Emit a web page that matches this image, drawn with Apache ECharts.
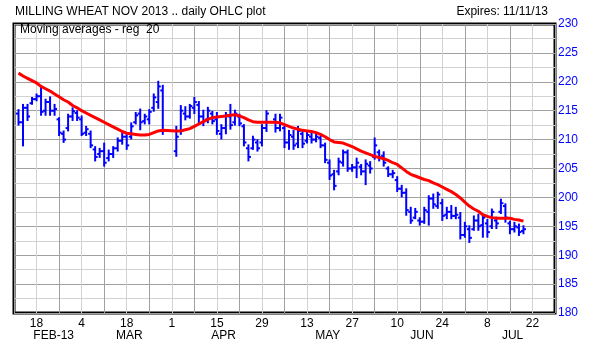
<!DOCTYPE html>
<html><head><meta charset="utf-8">
<script src="https://cdn.jsdelivr.net/npm/echarts@6/dist/echarts.min.js"></script>
<style>html,body{margin:0;padding:0;background:#fff}#c{width:612px;height:360px}</style>
</head><body><div id="c"></div>
<script>
// trading-day index: 0 = Mon 11 Feb 2013, weekdays only
const days = [1,2,3,4,5,6,7,8,9,10,11,12,13,14,15,16,17,18,19,20,21,22,23,24,25,26,27,28,29,30,31,32,33,
  36,37,38,39,40,41,42,43,44,45,46,47,48,49,50,51,52,53,54,55,56,
  58,59,60,61,62,63,64,65,66,67,68,69,70,71,72,73,74,75,76,77,78,79,80,81,82,83,84,85,86,87,
  88,89,90,91,92,93,94,95,96,97,98,99,100,101,102,103,104,105,106,107,108,109,110,111,112,113];
const opens = [214.5,213.0,215.5,216.3,217.0,217.5,215.0,216.5,215.0,213.5,211.0,212.0,214.0,214.6,213.5,211.2,211.0,208.3,207.5,208.0,206.8,207.5,208.5,209.8,210.5,210.5,213.0,214.5,213.2,213.5,215.5,216.5,218.5,
  208.0,211.5,214.5,214.0,215.5,216.0,214.0,213.5,214.5,213.5,211.0,212.0,214.0,213.0,214.0,212.3,208.5,208.5,209.5,209.5,212.0,
  213.5,212.0,212.0,209.5,210.5,209.3,211.0,209.8,210.5,210.0,210.3,209.0,206.0,204.0,204.5,206.0,207.8,205.0,205.2,205.3,204.5,205.5,207.0,207.8,207.2,205.0,204.0,203.0,201.5,200.8,
  197.5,196.5,196.0,195.8,197.5,199.8,198.5,199.0,197.0,197.5,196.8,196.5,193.5,194.5,194.5,196.0,195.2,195.5,195.0,196.0,197.5,198.5,195.5,194.5,194.8,194.2];
const highs = [215.1,216.0,216.0,217.2,217.8,219.0,216.9,217.3,216.0,213.7,211.4,214.3,215.4,214.9,214.0,212.2,211.4,208.7,208.4,209.3,208.1,208.7,210.2,211.1,210.8,212.8,214.6,215.2,214.3,215.1,217.8,220.0,219.3,
  212.2,215.8,215.6,216.0,217.2,216.5,215.0,215.5,214.8,214.6,212.5,214.6,216.0,215.0,214.3,212.5,209.0,210.5,209.9,212.5,214.9,
  214.3,214.3,212.2,211.5,211.5,212.2,211.5,211.2,211.2,210.9,210.5,209.3,206.4,204.6,206.7,208.1,208.1,205.6,206.7,205.6,206.4,206.1,210.2,208.1,207.8,205.2,204.6,203.5,202.0,201.4,
  198.2,198.0,196.4,198.2,200.2,200.5,200.8,199.6,198.2,198.5,198.2,197.3,195.6,195.0,196.7,197.0,197.0,196.1,197.9,196.5,199.6,198.8,195.8,195.6,195.3,195.0];
const lows = [212.6,209.0,213.4,216.2,216.8,214.3,214.3,214.3,214.3,210.8,209.6,211.6,213.4,213.4,210.8,210.8,208.7,206.4,207.0,205.5,206.4,207.0,208.1,209.3,208.4,210.2,212.8,211.8,212.8,212.8,215.0,215.5,211.0,
  207.2,211.0,213.5,213.8,214.6,213.0,212.5,213.0,212.8,211.0,210.2,211.1,211.9,212.6,212.5,209.0,206.4,208.4,208.1,209.0,211.5,
  211.4,211.6,208.7,208.4,208.4,208.7,208.7,209.5,209.5,209.7,208.7,206.1,203.2,201.4,204.0,205.5,204.6,204.6,203.5,204.0,202.3,204.3,206.7,206.4,205.5,203.7,203.5,201.1,200.2,197.0,
  195.6,196.4,195.3,195.6,195.3,198.2,198.2,196.1,196.4,196.4,196.4,192.9,193.2,192.3,194.4,194.4,193.2,193.2,194.7,194.7,197.3,195.8,193.8,194.1,193.5,193.8];
const closes = [213.0,215.5,214.0,217.0,217.5,214.8,216.5,215.0,215.3,211.2,210.0,214.0,214.9,213.8,211.0,211.8,209.0,207.0,208.0,206.0,207.5,208.5,209.8,210.5,209.0,212.3,214.2,213.0,214.0,214.8,217.3,219.2,211.5,
  210.5,215.0,214.0,215.8,216.5,214.0,213.2,215.0,213.2,211.5,212.0,214.2,212.5,214.5,212.8,209.5,207.0,210.0,208.5,212.0,214.5,
  212.0,213.8,209.5,210.8,209.0,211.5,209.3,210.8,210.0,210.5,209.0,206.5,203.8,202.0,206.2,207.8,205.0,205.2,206.0,204.5,205.8,205.0,209.0,207.0,206.0,204.0,204.2,201.5,200.8,197.8,
  196.0,197.5,195.8,197.8,199.8,198.8,200.5,196.8,197.5,196.8,197.0,193.5,195.0,193.0,196.0,195.0,196.5,194.0,197.5,195.5,199.0,196.5,194.5,195.0,194.0,194.5];
const ma20 = [221.5,221.0,220.6,220.2,219.8,219.2,218.8,218.4,217.9,217.4,216.9,216.5,215.9,215.5,215.0,214.6,214.2,213.8,213.4,213.0,212.6,212.2,211.8,211.4,211.1,211.0,210.9,210.8,210.8,210.9,211.2,211.5,211.6,
  211.5,211.5,211.7,211.9,212.3,212.7,213.1,213.5,213.8,213.9,214.0,214.1,214.2,214.3,214.1,213.8,213.4,213.1,213.0,213.0,213.0,
  213.0,212.9,212.6,212.3,212.0,211.8,211.6,211.5,211.4,211.2,210.9,210.5,210.0,209.6,209.5,209.4,209.1,208.8,208.4,208.0,207.7,207.4,207.1,206.9,206.7,206.4,206.0,205.7,205.1,204.5,
  204.0,203.7,203.4,203.1,202.9,202.5,202.2,201.8,201.4,201.0,200.5,199.9,199.2,198.5,198.0,197.6,197.0,196.7,196.5,196.4,196.4,196.4,196.4,196.2,196.1,195.9];

const dayTickPos = [5,15,25,35,45,55,65,75,85,95,105,115];
const dayTickLabels = ['18','4','18','1','15','29','13','27','10','24','8','22'];
const monthPos = [8.8,25.6,46.5,69.6,90.5,110.6];
const monthLabels = ['FEB-13','MAR','APR','MAY','JUN','JUL'];

const FONT = '"Liberation Sans", Arial, sans-serif';
const ohlc = days.map((d,i)=>[d, opens[i], highs[i], lows[i], closes[i]]);
const maData = days.map((d,i)=>[d, ma20[i]]);

const chart = echarts.init(document.getElementById('c'));
chart.setOption({
  animation:false,
  backgroundColor:'#fff',
  title:[
    {text:'MILLING WHEAT NOV 2013 .. daily OHLC plot', left:10, top:1,
     textStyle:{fontSize:12, fontWeight:'normal', color:'#000', fontFamily:FONT}},
    {text:'Expires: 11/11/13', right:59, top:1,
     textStyle:{fontSize:12, fontWeight:'normal', color:'#000', fontFamily:FONT}},
    {text:'Moving averages - reg  20', left:15, top:19,
     textStyle:{fontSize:12, fontWeight:'normal', color:'#000', fontFamily:FONT}}
  ],
  grid:{left:14, right:57, top:24, bottom:47, show:true, borderColor:'#000', borderWidth:3, backgroundColor:'transparent'},
  xAxis:[{
    type:'value', min:0, max:120, interval:5, position:'bottom',
    axisLine:{show:false}, axisTick:{show:false},
    splitLine:{show:true, lineStyle:{color:['#a0a0a0','#d2d2d2'], width:1}},
    axisLabel:{customValues:dayTickPos, formatter:v=>dayTickLabels[dayTickPos.indexOf(v)] || '',
      margin:5, color:'#000', fontSize:12, fontFamily:FONT}
  },{
    type:'value', min:0, max:120, position:'bottom',
    axisLine:{show:false}, axisTick:{show:false}, splitLine:{show:false},
    axisLabel:{customValues:monthPos, formatter:v=>monthLabels[monthPos.indexOf(v)] || '',
      margin:17, color:'#000', fontSize:12, fontFamily:FONT}
  }],
  yAxis:{
    type:'value', min:180, max:230, interval:2.5, position:'right',
    axisLine:{show:false}, axisTick:{show:false},
    splitLine:{show:true, lineStyle:{color:['#a0a0a0','#d2d2d2'], width:1}},
    axisLabel:{formatter:v=>(v%5===0?String(v):''), color:'#0000ff', fontSize:12, fontFamily:FONT, margin:3}
  },
  series:[{
    type:'custom', xAxisIndex:0, yAxisIndex:0, data:ohlc, encode:{x:0, y:[1,2,3,4]},
    renderItem:function(params, api){
      const x = api.value(0);
      const o = api.coord([x, api.value(1)]);
      const h = api.coord([x, api.value(2)]);
      const l = api.coord([x, api.value(3)]);
      const c = api.coord([x, api.value(4)]);
      const style = {stroke:'#0000ff', lineWidth:2};
      const w = 2.5;
      return {type:'group', children:[
        {type:'line', shape:{x1:h[0], y1:h[1]-1, x2:l[0], y2:l[1]+1}, style:style},
        {type:'line', shape:{x1:o[0]-w, y1:o[1], x2:o[0], y2:o[1]}, style:style},
        {type:'line', shape:{x1:c[0], y1:c[1], x2:c[0]+w, y2:c[1]}, style:style}
      ]};
    }
  },{
    type:'line', data:maData, showSymbol:false, smooth:false,
    lineStyle:{color:'#ff0000', width:3}, z:3
  }]
});
</script>
</body></html>
